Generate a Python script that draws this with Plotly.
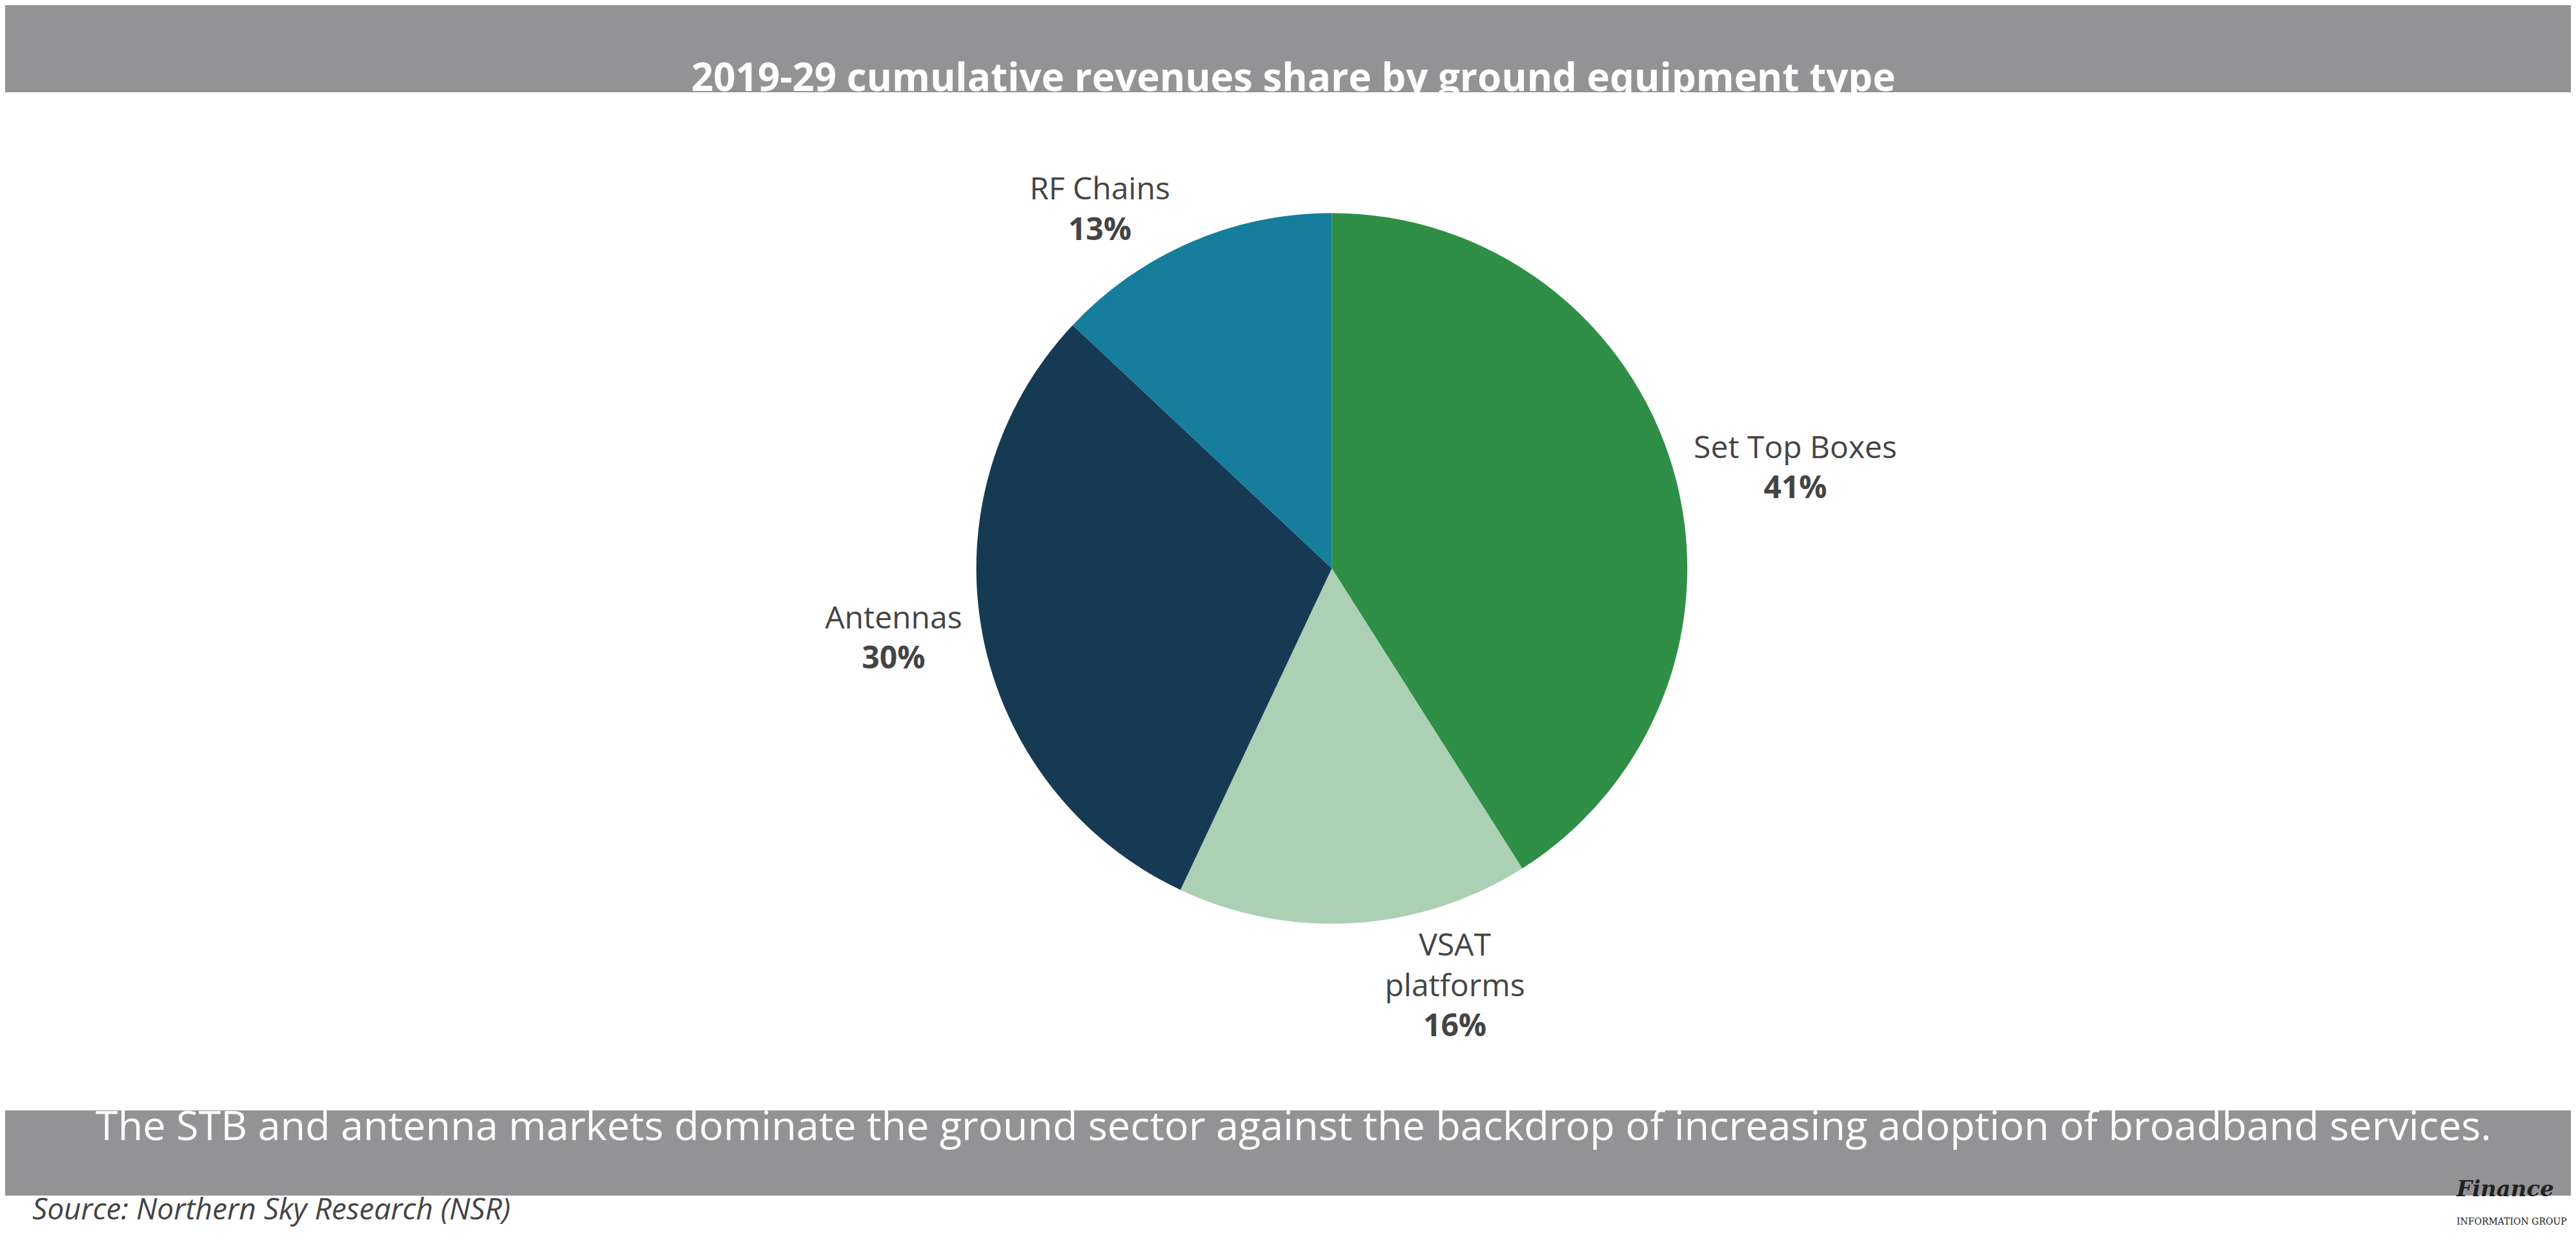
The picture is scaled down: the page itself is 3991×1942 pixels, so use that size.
import plotly.graph_objects as go

labels = ["Set Top Boxes", "VSAT<br>platforms", "Antennas", "RF Chains"]
values = [41, 16, 30, 13]
pct_text = ["41%", "16%", "30%", "13%"]
colors = ["#2f8f46", "#abd0b3", "#173a54", "#167d9c"]

W, H = 3991, 1942
fig = go.Figure(go.Pie(
    labels=labels, values=values, text=pct_text, sort=False, direction="clockwise",
    rotation=0, marker=dict(colors=colors, line=dict(width=0)),
    textposition="outside", texttemplate="%{label}<br><b>%{text}</b>",
    textfont=dict(family="Open Sans", size=48, color="#444444"),
    outsidetextfont=dict(family="Open Sans", size=48, color="#444444"),
    domain=dict(x=[0.377, 0.653], y=[0.266, 0.835]), showlegend=False,
    hoverinfo="label+percent"))

fig.update_layout(
    width=W, height=H, margin=dict(l=0, r=0, t=0, b=0),
    paper_bgcolor="white", plot_bgcolor="white",
    shapes=[
        dict(type="rect", xref="paper", yref="paper", x0=0, x1=1, y0=1-135/H, y1=1,
             fillcolor="#939396", line_width=0, layer="below"),
        dict(type="rect", xref="paper", yref="paper", x0=0, x1=1, y0=1-1845/H, y1=1-1713/H,
             fillcolor="#939396", line_width=0, layer="below"),
    ],
    annotations=[
        dict(text="<b>2019-29 cumulative revenues share by ground equipment type</b>",
             xref="paper", yref="paper", x=0.5, y=1-67/H, showarrow=False,
             font=dict(family="Open Sans", size=60, color="white")),
        dict(text="The STB and antenna markets dominate the ground sector against the backdrop of increasing adoption of broadband services.",
             xref="paper", yref="paper", x=0.5, y=1-1779/H, showarrow=False,
             font=dict(family="Open Sans", size=63, color="white")),
        dict(text="<i>Source: Northern Sky Research (NSR)</i>",
             xref="paper", yref="paper", x=40/W, y=1-1897/H, xanchor="left", showarrow=False,
             font=dict(family="Open Sans", size=46, color="#444444")),
        dict(text="<i><b>Finance</b></i><br><span style='font-size:14px'>INFORMATION GROUP</span>",
             xref="paper", yref="paper", x=1-20/W, y=1-1895/H, xanchor="right", showarrow=False,
             align="left", font=dict(family="DejaVu Serif", size=34, color="#222222")),
    ],
)
fig.write_html("out.html")
